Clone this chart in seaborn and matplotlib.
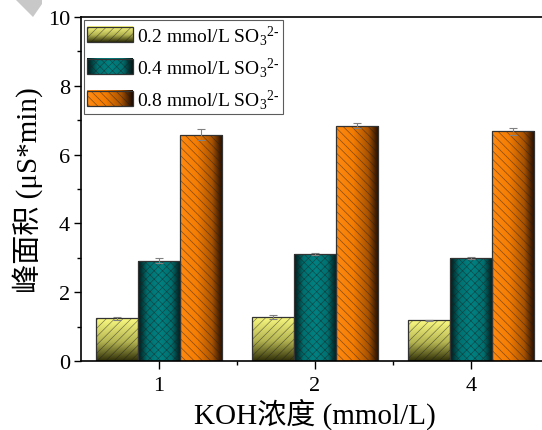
import numpy as np
import pandas as pd
import matplotlib
matplotlib.use("Agg")
import matplotlib.pyplot as plt
import seaborn as sns
from matplotlib.colors import LinearSegmentedColormap
from matplotlib.patches import Rectangle, Polygon
from matplotlib.legend_handler import HandlerBase
from matplotlib.image import BboxImage
from matplotlib.transforms import Bbox, TransformedBbox
from matplotlib.ticker import MultipleLocator, FixedLocator
from matplotlib.container import BarContainer

# ---- data ----
koh_levels = ["1", "2", "4"]
so3_levels = [r"0.2 mmol/L SO$_3$$^{2\text{-}}$", r"0.4 mmol/L SO$_3$$^{2\text{-}}$",
              r"0.8 mmol/L SO$_3$$^{2\text{-}}$"]
area_02 = [1.24, 1.28, 1.18]
area_04 = [2.92, 3.10, 2.99]
area_08 = [6.58, 6.84, 6.68]
err_02 = [0.05, 0.05, 0.02]
err_04 = [0.06, 0.03, 0.02]
err_08 = [0.15, 0.08, 0.10]

df = pd.DataFrame({
    "koh": koh_levels * 3,
    "so3": [so3_levels[0]] * 3 + [so3_levels[1]] * 3 + [so3_levels[2]] * 3,
    "area": area_02 + area_04 + area_08,
})
errors = [err_02, err_04, err_08]

# ---- styling ----
sns.set_theme(style="ticks")
serif = ["Liberation Serif", "Noto Sans CJK SC"]
plt.rcParams["font.family"] = serif
plt.rcParams["mathtext.fontset"] = "custom"
plt.rcParams["mathtext.rm"] = "Liberation Serif"
plt.rcParams["mathtext.it"] = "Liberation Serif:italic"
plt.rcParams["hatch.linewidth"] = 0.5

edge = "#333333"
hatch_rgba = (0.12, 0.12, 0.12, 0.55)
hatches = ["////", "xxxx", "\\\\\\\\"]

cm_yellow = LinearSegmentedColormap.from_list(
    "yel", [(0.0, "#2e2e08"), (0.45, "#b4b452"), (1.0, "#fbfb82")])
cm_teal = LinearSegmentedColormap.from_list(
    "teal", [(0.0, "#001616"), (0.22, "#007070"), (0.5, "#008282"),
             (0.78, "#007070"), (1.0, "#001616")])
cm_orange = LinearSegmentedColormap.from_list(
    "org", [(0.0, "#ff8a12"), (0.4, "#f47c02"), (0.75, "#a85200"), (1.0, "#1c0a00")])
gradients = [(cm_yellow, "v"), (cm_teal, "h"), (cm_orange, "h")]


def grad_array(cmap, direction, n=256):
    t = np.linspace(0, 1, n)
    if direction == "v":
        arr = t[::-1].reshape(-1, 1) * np.ones((1, 2))
    else:
        arr = np.ones((2, 1)) * t.reshape(1, -1)
    return cmap(arr)


def style_hatch(patch, hatch):
    patch.set_facecolor("none")
    patch.set_edgecolor(edge)
    patch.set_hatch(hatch)
    if hasattr(patch, "set_hatchcolor"):
        patch.set_hatchcolor(hatch_rgba)
    else:
        patch._hatch_color = hatch_rgba


fig = plt.figure(figsize=(5.42, 4.31), dpi=100)
ax = fig.add_axes([81 / 542, 69 / 431, 468 / 542, 344 / 431])

sns.barplot(data=df, x="koh", y="area", hue="so3", order=koh_levels,
            hue_order=so3_levels, width=0.81, errorbar=None, legend=False,
            ax=ax, zorder=2)

bar_containers = [c for c in ax.containers if isinstance(c, BarContainer)]
for i, cont in enumerate(bar_containers):
    cmap, direction = gradients[i]
    xs = []
    for bar in cont.patches:
        x0, y0 = bar.get_x(), bar.get_y()
        w, h = bar.get_width(), bar.get_height()
        im = ax.imshow(grad_array(cmap, direction), extent=(x0, x0 + w, y0, y0 + h),
                       aspect="auto", interpolation="bilinear", origin="upper", zorder=1.5)
        im.set_clip_path(bar)
        style_hatch(bar, hatches[i])
        bar.set_linewidth(0.9)
        xs.append(x0 + w / 2)
    vals = df[df["so3"] == so3_levels[i]]["area"].to_numpy()
    ax.errorbar(xs, vals, yerr=errors[i], fmt="none", ecolor="#808080",
                elinewidth=0.8, capsize=3, capthick=0.8, zorder=3)

ax.set_xlim(-0.5, 2.5)
ax.set_ylim(0, 10)
ax.yaxis.set_major_locator(MultipleLocator(2))
ax.yaxis.set_minor_locator(MultipleLocator(1))
ax.xaxis.set_minor_locator(FixedLocator([0.5, 1.5]))
ax.tick_params(axis="both", which="major", direction="out", length=5, width=1,
               labelsize=16, color="black", labelcolor="black", pad=3)
ax.tick_params(axis="both", which="minor", direction="out", length=3, width=1, color="black")
ax.tick_params(axis="x", which="major", length=6, pad=5)
for lab in ax.get_xticklabels() + ax.get_yticklabels():
    lab.set_family(serif)

for s in ["left", "bottom", "top"]:
    ax.spines[s].set_color("black")
    ax.spines[s].set_linewidth(1.2)
ax.spines["right"].set_visible(False)

ax.set_xlabel("KOH浓度 (mmol/L)", fontsize=21, family=serif, color="black", labelpad=2)
ax.set_ylabel("峰面积 (μS*min)", fontsize=21, family=serif, color="black", labelpad=3)


class GradientHandler(HandlerBase):
    def __init__(self, cmap, direction, hatch):
        super().__init__()
        self.cmap, self.direction, self.hatch = cmap, direction, hatch

    def legend_artist(self, legend, orig_handle, fontsize, handlebox):
        x0, y0 = -handlebox.xdescent, -handlebox.ydescent
        w, h = handlebox.width, handlebox.height
        tr = handlebox.get_transform()
        bb = TransformedBbox(Bbox.from_bounds(x0, y0, w, h), tr)
        img = BboxImage(bb, interpolation="bilinear")
        img.set_data(grad_array(self.cmap, self.direction, 64))
        handlebox.add_artist(img)
        rect = Rectangle((x0, y0), w, h, linewidth=0.9, transform=tr)
        style_hatch(rect, self.hatch)
        handlebox.add_artist(rect)
        return rect


proxies = [Rectangle((0, 0), 1, 1) for _ in so3_levels]
handler_map = {p: GradientHandler(gradients[i][0], gradients[i][1], hatches[i])
               for i, p in enumerate(proxies)}
leg = ax.legend(proxies, so3_levels, handler_map=handler_map, loc="upper left",
                bbox_to_anchor=(0.0, 1.0), borderaxespad=0.15,
                frameon=True, fancybox=False, edgecolor="#333333",
                handlelength=2.35, handleheight=0.85, handletextpad=0.25,
                labelspacing=0.42, borderpad=0.15, prop={"family": serif, "size": 14})
leg.get_frame().set_linewidth(0.8)
for t in leg.get_texts():
    t.set_color("black")

# light grey corner mark
fig.patches.append(Polygon([[15 / 542, 1.0], [42 / 542, 1.0], [42 / 542, 1 - 5 / 431],
                            [33 / 542, 1 - 18 / 431]], closed=True,
                           transform=fig.transFigure, facecolor="#c8c8c8",
                           edgecolor="none", zorder=0))

fig.savefig("out.png", dpi=100)
